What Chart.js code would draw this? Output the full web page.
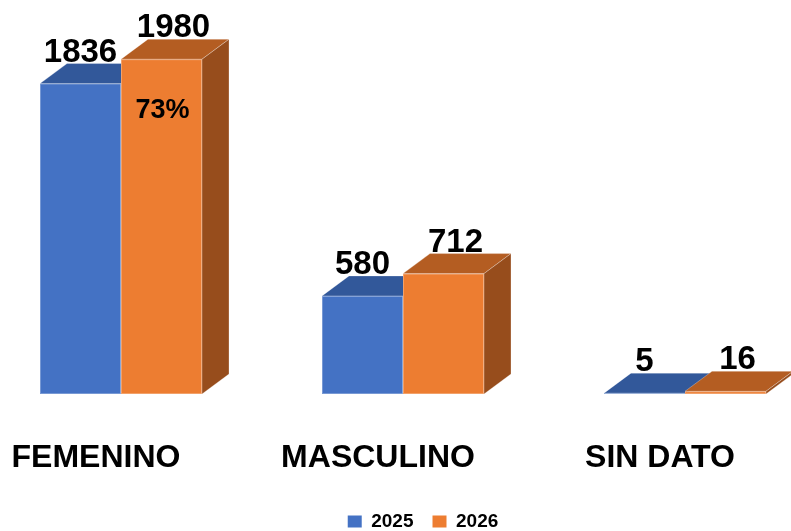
<!DOCTYPE html>
<html>
<head>
<meta charset="utf-8">
<script src="https://cdn.jsdelivr.net/npm/chart.js@4/dist/chart.umd.min.js"></script>
<style>
  html, body { margin: 0; padding: 0; background: #ffffff; }
  #wrap { width: 791px; height: 531px; }
</style>
</head>
<body>
<div id="wrap"><canvas id="c" width="791" height="531"></canvas></div>
<script>
const categories = ['FEMENINO', 'MASCULINO', 'SIN DATO'];
const seriesNames = ['2025', '2026'];
const values2025 = [1836, 580, 5];
const values2026 = [1980, 712, 16];

const FONT = '"Liberation Sans", Arial, sans-serif';
const faces = [
  { front: '#4472C4', top: '#32589A', side: '#2B4D86', edge: 'rgba(255,255,255,0.28)' },
  { front: '#ED7D31', top: '#B45D22', side: '#974D1C', edge: 'rgba(255,255,255,0.28)' }
];
const DX = 27, DY = 20;

const bar3d = {
  id: 'bar3d',
  beforeDatasetsDraw(chart) {
    const ctx = chart.ctx;
    const metas = chart.data.datasets.map((d, i) => chart.getDatasetMeta(i));
    ctx.save();
    for (let i = 0; i < categories.length; i++) {
      metas.forEach((meta, di) => {
        const el = meta.data[i];
        if (!el) return;
        const p = el.getProps(['x', 'y', 'base', 'width'], true);
        const l = p.x - p.width / 2, r = p.x + p.width / 2;
        const t = Math.min(p.y, p.base), b = Math.max(p.y, p.base);
        const f = faces[di];
        ctx.fillStyle = f.front;
        ctx.fillRect(l, t, r - l, b - t);
        ctx.strokeStyle = f.edge; ctx.lineWidth = 1;
        ctx.strokeRect(l + 0.5, t + 0.5, r - l - 1, Math.max(b - t - 1, 0));
        ctx.beginPath();
        ctx.moveTo(l, t); ctx.lineTo(r, t); ctx.lineTo(r + DX, t - DY); ctx.lineTo(l + DX, t - DY); ctx.closePath();
        ctx.fillStyle = f.top; ctx.fill();
        ctx.stroke();
        ctx.beginPath();
        ctx.moveTo(r, t); ctx.lineTo(r + DX, t - DY); ctx.lineTo(r + DX, b - DY); ctx.lineTo(r, b); ctx.closePath();
        ctx.fillStyle = f.side; ctx.fill();
        ctx.stroke();
      });
    }
    ctx.fillStyle = '#000';
    ctx.font = 'bold 33px ' + FONT;
    ctx.textAlign = 'center';
    ctx.textBaseline = 'alphabetic';
    metas.forEach((meta, di) => {
      const vals = chart.data.datasets[di].data;
      meta.data.forEach((el, i) => {
        const p = el.getProps(['x', 'y'], true);
        ctx.fillText(String(vals[i]), p.x + (di === 1 ? 12 : 0), p.y - 22);
      });
    });
    const total2026 = values2026.reduce((a, b) => a + b, 0);
    const pct = Math.round(values2026[0] / total2026 * 100) + '%';
    const el = metas[1].data[0].getProps(['x', 'y'], true);
    ctx.font = 'bold 27px ' + FONT;
    ctx.textBaseline = 'middle';
    ctx.fillText(pct, el.x + 1, el.y + 51);
    ctx.restore();
    return false;
  }
};

new Chart(document.getElementById('c'), {
  type: 'bar',
  data: {
    labels: categories,
    datasets: [
      { label: seriesNames[0], data: values2025, backgroundColor: faces[0].front, borderWidth: 0 },
      { label: seriesNames[1], data: values2026, backgroundColor: faces[1].front, borderWidth: 0 }
    ]
  },
  options: {
    responsive: false,
    animation: false,
    events: [],
    barThickness: 81,
    layout: { padding: { left: 121, right: 66, top: 22, bottom: -10 } },
    scales: {
      x: {
        offset: false,
        grid: { display: true, drawOnChartArea: false, drawTicks: true, tickLength: 45, color: 'rgba(0,0,0,0)' },
        border: { display: false },
        ticks: {
          color: '#000',
          font: { family: FONT, size: 32, weight: 'bold' },
          padding: 0,
          labelOffset: -25,
          maxRotation: 0,
          autoSkip: false
        },
        afterFit(s) { s.height = 99; }
      },
      y: {
        display: false,
        min: 0,
        max: 2200
      },
      y2: {
        position: 'right',
        display: true,
        grid: { display: false },
        border: { display: false },
        ticks: { display: false },
        afterFit(s) { s.width = 40; }
      }
    },
    plugins: {
      tooltip: { enabled: false },
      legend: {
        position: 'bottom',
        labels: {
          color: '#000',
          boxWidth: 14,
          boxHeight: 12,
          padding: 19,
          font: { family: FONT, size: 19, weight: 'bold' }
        }
      }
    }
  },
  plugins: [bar3d]
});
</script>
</body>
</html>
